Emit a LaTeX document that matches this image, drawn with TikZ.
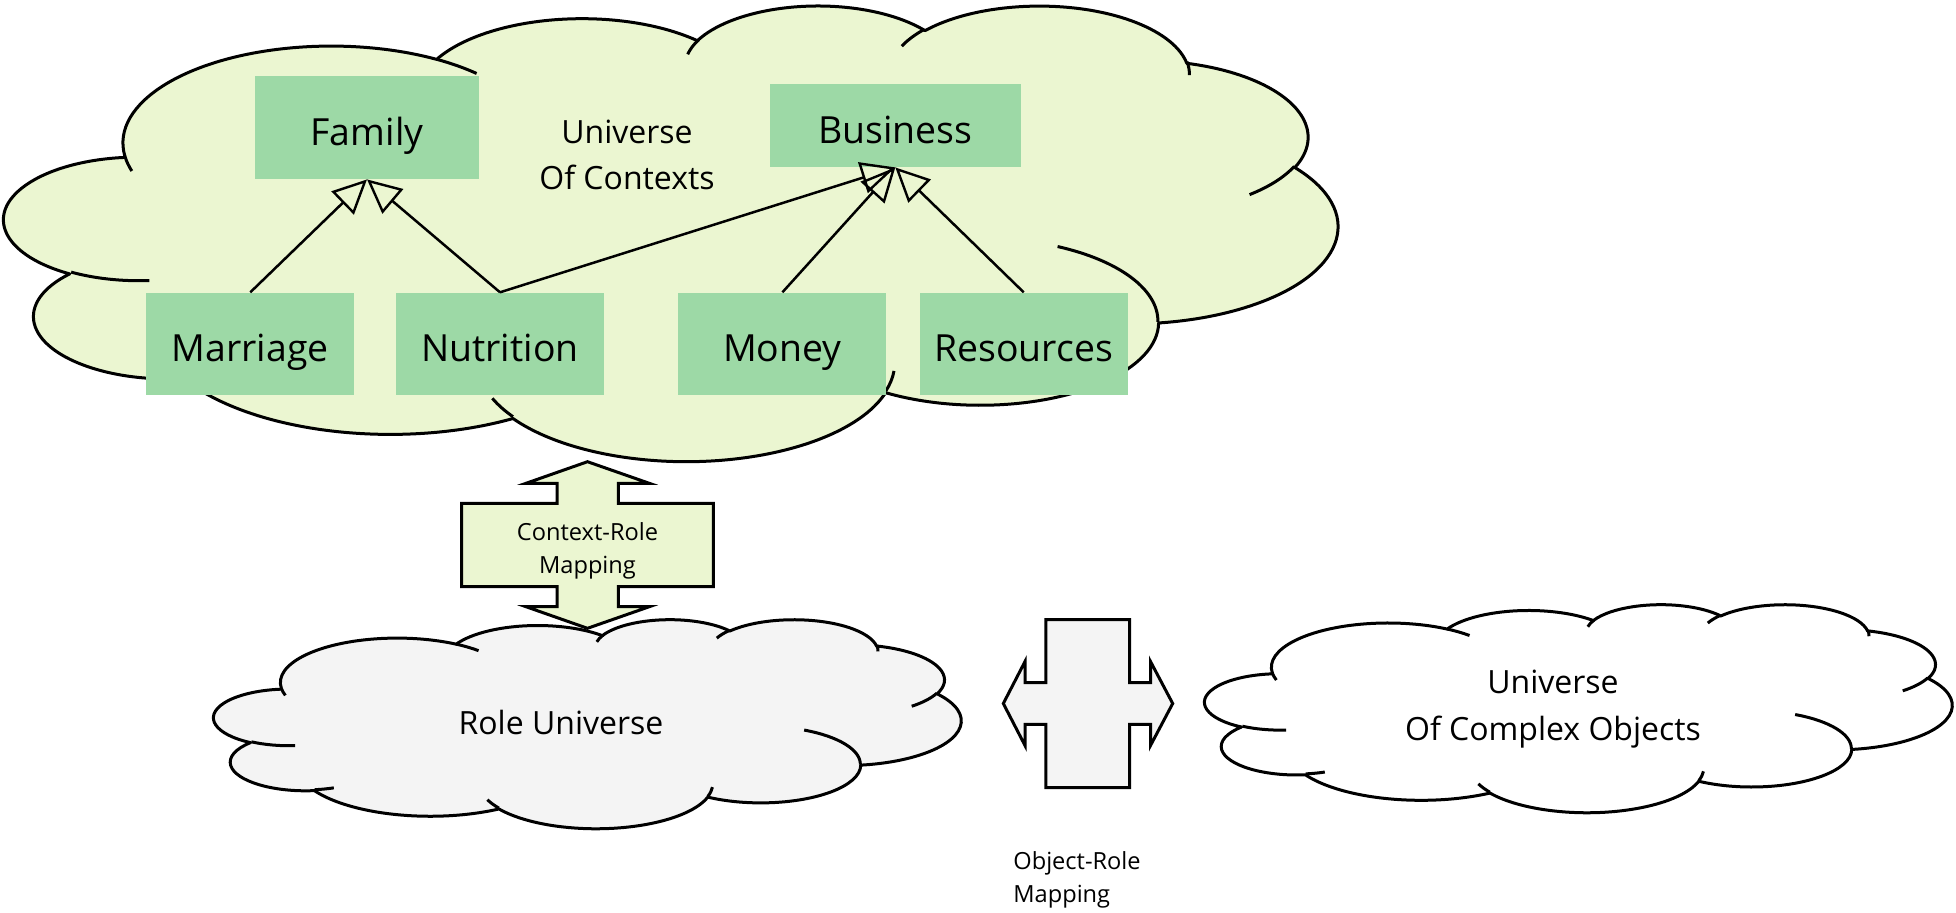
\documentclass[tikz,border=0pt]{standalone}
\usepackage{fontspec}
\setmainfont{Open Sans}
\usetikzlibrary{arrows.meta}
\definecolor{ctxfill}{HTML}{EBF6D1}
\definecolor{boxfill}{HTML}{9DD9A6}
\definecolor{rolefill}{HTML}{F4F4F4}
\newcommand\lblbig{\fontsize{18.7pt}{22pt}\selectfont}
\newcommand\lblmid{\fontsize{16pt}{23.2pt}\selectfont}
\newcommand\lblsmall{\fontsize{11.8pt}{16.8pt}\selectfont}
\newcommand\cldarc[4]{arc[x radius=#1,y radius=#2,start angle={pa(#1,#2,#3)},delta angle={pd(#1,#2,#3,#4)}]}
\newcommand\cloudouter{(39.00,143.70)
 \cldarc{67.53}{91.90}{-190.4875}{123.7805}
 \cldarc{53.33}{72.67}{-144.1024}{89.9452}
 \cldarc{43.65}{59.45}{-145.8079}{99.7230}
 \cldarc{48.57}{65.95}{-130.9861}{117.2417}
 \cldarc{53.33}{72.73}{-78.7089}{109.0269}
 \cldarc{67.75}{92.20}{-46.2673}{130.2690}
 \cldarc{57.85}{78.67}{0.6250}{114.0333}
 \cldarc{67.52}{92.15}{22.4516}{115.1726}
 \cldarc{77.20}{105.43}{66.2426}{75.7110}
 \cldarc{43.60}{59.18}{-274.9421}{146.7356}
 \cldarc{43.45}{59.45}{-246.8285}{152.5189} -- cycle}
\newcommand\cloudinner{
 (46.93,261.77) \cldarc{43.45}{59.45}{86.7420}{26.4295}
 (69.28,348.99) \cldarc{43.60}{59.18}{73.6105}{11.4475}
 (164.78,390.90) \cldarc{67.52}{92.15}{137.6242}{14.0811}
 (288.27,347.51) \cldarc{67.52}{92.15}{6.4533}{15.9984}
 (341.29,229.54) \cldarc{57.85}{78.67}{-70.2924}{70.9174}
 (417.98,153.54) \cldarc{53.33}{72.73}{30.3180}{27.7515}
 (383.24,54.26) \cldarc{48.57}{65.95}{-13.7443}{14.8589}
 (290.78,39.52) \cldarc{48.57}{65.95}{-149.1815}{18.1954}
 (221.41,47.20) \cldarc{43.65}{59.45}{-163.4943}{17.6864}
 (140.00,51.92) \cldarc{67.53}{91.90}{-66.7070}{12.3194}
 (41.27,157.89) \cldarc{67.53}{91.90}{157.6544}{11.8582}}
\tikzset{
  declare function={
    pa(\w,\h,\a)=atan2(\w*sin(\a),\h*cos(\a));
    pd(\w,\h,\a,\s)=Mod(pa(\w,\h,\a+\s)-pa(\w,\h,\a),360);
  },
  cloudedge/.style={draw=black, line width=1.5pt, line join=round},
  cloudline/.style={draw=black, line width=1.5pt, line cap=butt},
  ctxbox/.style={fill=boxfill, inner sep=0pt, font=\lblbig, text=black,
                 text height=17.6pt, text depth=0pt},
  gen/.style={draw=black, line width=1.25pt, -{Triangle[open, length=17pt, width=16pt, line width=1.2pt]}},
  maparrow/.style={draw=black, line width=1.5pt, line join=miter},
  cloudtext/.style={font=\lblmid, align=center, inner sep=0pt},
  maptext/.style={font=\lblsmall, inner sep=0pt},
}
\begin{document}
\begin{tikzpicture}[x=0.5pt,y=-0.5pt]
\useasboundingbox (0,0) rectangle (1956,912);

% Universe of contexts cloud
\begin{scope}[shift={(4.5,4.5)},x=1.54282pt,y=-0.52720pt]
  \path[cloudedge, fill=ctxfill] \cloudouter;
  \path[cloudline] \cloudinner;
\end{scope}

% context boxes
\node[ctxbox, minimum width=112pt, minimum height=51.5pt] (family) at (367,127.5) {Family};
\node[ctxbox, minimum width=125.25pt, minimum height=41.5pt] (business) at (895.3,125.5) {Business};
\node[ctxbox, minimum width=104pt, minimum height=51.3pt] (marriage) at (250.3,344) {Marriage};
\node[ctxbox, minimum width=104pt, minimum height=51.3pt] (nutrition) at (500,344) {Nutrition};
\node[ctxbox, minimum width=104pt, minimum height=51.3pt] (money) at (782.4,344) {Money};
\node[ctxbox, minimum width=104pt, minimum height=51.3pt] (resources) at (1023.7,344) {Resources};

\node[cloudtext] (ctxlabel) at (627,155) {Universe\\Of Contexts};

% generalisations
\draw[gen] (marriage.north) -- (family.south);
\draw[gen] (nutrition.north) -- (family.south);
\draw[gen] (nutrition.north) -- (business.south);
\draw[gen] (money.north) -- (business.south);
\draw[gen] (resources.north) -- (business.south);

% Role universe cloud
\begin{scope}[shift={(214,619)},x=0.86458pt,y=-0.24190pt]
  \path[cloudedge, fill=rolefill] \cloudouter;
  \path[cloudline] \cloudinner;
\end{scope}
\node[cloudtext] (rolelabel) at (561,722) {Role Universe};

% Complex objects cloud
\begin{scope}[shift={(1205,604)},x=0.86458pt,y=-0.24074pt]
  \path[cloudedge, fill=white] \cloudouter;
  \path[cloudline] \cloudinner;
\end{scope}
\node[cloudtext] (cplxlabel) at (1553,709) {Universe\\Of Complex Objects};

% Context-Role mapping arrow
\path[maparrow, fill=ctxfill] (587.5,461.7) -- (649.3,483.3) -- (618.3,483.3) -- (618.3,503.3)
  -- (713.3,503.3) -- (713.3,586.7) -- (618.3,586.7) -- (618.3,606.7) -- (649.3,606.7)
  -- (587.5,628.3) -- (526,606.7) -- (557,606.7) -- (557,586.7) -- (461.7,586.7)
  -- (461.7,503.3) -- (557,503.3) -- (557,483.3) -- (526,483.3) -- cycle;
\node[maptext, align=center] (crlabel) at (587.5,551) {Context-Role\\Mapping};

% Object-Role mapping arrow
\path[maparrow, fill=rolefill] (1003.3,703.5) -- (1025,661.5) -- (1025,682.7) -- (1045.8,682.7)
  -- (1045.8,619.5) -- (1129.5,619.5) -- (1129.5,682.7) -- (1150.5,682.7) -- (1150.5,661.5)
  -- (1172.7,703.5) -- (1150.5,745.5) -- (1150.5,724.3) -- (1129.5,724.3) -- (1129.5,787.5)
  -- (1045.8,787.5) -- (1045.8,724.3) -- (1025,724.3) -- (1025,745.5) -- cycle;
\node[maptext, align=left, anchor=west] (orlabel) at (1013,880) {Object-Role\\Mapping};
\end{tikzpicture}
\end{document}
